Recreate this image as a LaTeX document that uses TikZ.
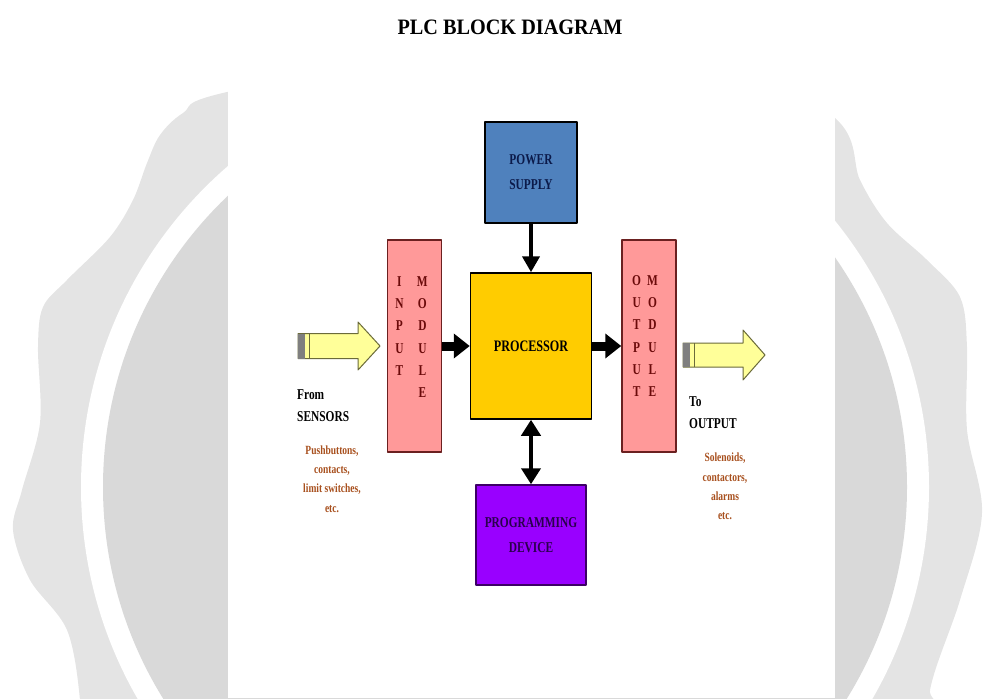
\documentclass[tikz,border=0pt]{standalone}
\usepackage{fontspec}
\setmainfont{Liberation Serif}
\newfontfamily\plcfont[FakeStretch=0.76]{Liberation Serif}
\newfontfamily\plctitlefont[FakeStretch=0.92]{Liberation Serif}
\usetikzlibrary{arrows.meta}

\definecolor{plcsealout}{HTML}{E4E4E4}
\definecolor{plcsealin}{HTML}{D9D9D9}
\definecolor{plcpower}{HTML}{4F81BD}
\definecolor{plcpowertxt}{HTML}{0B1A4A}
\definecolor{plcmodule}{HTML}{FF9999}
\definecolor{plcmoduleedge}{HTML}{6B2020}
\definecolor{plcmoduletxt}{HTML}{6B0A0A}
\definecolor{plcproc}{HTML}{FFCC00}
\definecolor{plcprog}{HTML}{9900FF}
\definecolor{plcprogedge}{HTML}{3D0066}
\definecolor{plcprogtxt}{HTML}{2A004D}
\definecolor{plcyellow}{HTML}{FFFF99}
\definecolor{plcyellowedge}{HTML}{6B6B3A}
\definecolor{plcstripe}{HTML}{7F7F7F}
\definecolor{plcnote}{HTML}{A8501E}

\begin{document}
\begin{tikzpicture}[x=1pt,y=-1pt,line join=round,
  blk/.style={draw=black,line width=1.5pt,inner sep=0pt,align=center,
    font=\plcfont\bfseries\fontsize{15}{25}\selectfont},
  modbox/.style={blk,draw=plcmoduleedge,fill=plcmodule,minimum width=54pt,minimum height=212pt},
  modtxt/.style={inner sep=0pt,text=plcmoduletxt,font=\plcfont\bfseries\fontsize{15}{22.2}\selectfont},
  flowarrow/.style={line width=9pt,-{Triangle[length=16pt,width=24pt]}},
  feedarrow/.style={line width=4.5pt,-{Triangle[length=16pt,width=17pt]}},
  yarrow/.style={draw=plcyellowedge,fill=plcyellow,line width=1pt},
  lbl/.style={inner sep=0pt,align=left,font=\plcfont\bfseries\fontsize{15}{22}\selectfont},
  note/.style={inner sep=0pt,align=center,text=plcnote,font=\plcfont\bfseries\fontsize{12.5}{19.2}\selectfont}]
  \useasboundingbox (0,0) rectangle (984,698);

  % Grey seal watermark, hidden in the middle by the white page.
  \begin{scope}
    \clip (0,0) rectangle (984,698);
    \fill[plcsealout] plot[smooth cycle,tension=0.55] coordinates {
      (500,40) (227,92) (183,113) (160,135) (147,163) (133,200) (110,237)
      (67,280) (43,307) (38,347) (40,423) (22,490) (13,530) (30,580)
      (67,630) (80,700) (80,760) (930,760) (930,690) (960,600) (982,513)
      (967,430) (967,347) (960,297) (927,260) (887,223) (860,180) (835,118)
      (700,40)};
    \fill[white] (505,487) circle[radius=424];
    \fill[plcsealin] (505,487) circle[radius=402];
    \fill[white] (228,0) rectangle (835,698);
  \end{scope}

  \node[font=\plctitlefont\bfseries\fontsize{22}{26}\selectfont,inner sep=0pt] (title) at (510,27) {PLC BLOCK DIAGRAM};

  % Blocks.
  \node[blk,fill=plcpower,text=plcpowertxt,minimum width=92pt,minimum height=101pt] (power) at (531,172.5) {POWER\\SUPPLY};
  \node[blk,fill=plcproc,minimum width=121pt,minimum height=146pt,font=\plcfont\bfseries\fontsize{16}{20}\selectfont] (proc) at (531,346) {PROCESSOR};
  \node[modbox] (inmod) at (414.5,346) {};
  \node[modbox] (outmod) at (649,346) {};
  \node[blk,draw=plcprogedge,fill=plcprog,text=plcprogtxt,minimum width=110pt,minimum height=100pt] (prog) at (531,535) {PROGRAMMING\\DEVICE};

  % Letters stacked in the two modules.
  \node[modtxt] (inmodtxt) at (411.5,337.5) {\begin{tabular}{@{}c@{\hspace{13.5pt}}c@{}}I&M\\N&O\\P&D\\U&U\\T&L\\&E\end{tabular}};
  \node[modtxt] (outmodtxt) at (645,336.5) {\begin{tabular}{@{}c@{\hspace{6pt}}c@{}}O&M\\U&O\\T&D\\P&U\\U&L\\T&E\end{tabular}};

  % Signal flow.
  \draw[flowarrow] (inmod.east) -- (proc.west);
  \draw[flowarrow] (proc.east) -- (outmod.west);
  \draw[feedarrow] (power.south) -- (proc.north);
  \draw[feedarrow,{Triangle[length=16pt,width=19pt]}-{Triangle[length=16pt,width=19pt]}] (proc.south) -- (prog.north);

  % Yellow field arrows.
  \filldraw[yarrow] (298,333.5) -- (358,333.5) -- (358,322) -- (380,346) -- (358,370) -- (358,358.5) -- (298,358.5) -- cycle;
  \fill[plcstripe] (298,333.5) rectangle (305,358.5);
  \draw[plcyellowedge,line width=1pt] (309,333.5) -- (309,358.5);
  \filldraw[yarrow] (683,343) -- (743,343) -- (743,330) -- (765,355) -- (743,380) -- (743,367) -- (683,367) -- cycle;
  \fill[plcstripe] (683,343) rectangle (690,367);
  \draw[plcyellowedge,line width=1pt] (694,343) -- (694,367);

  % Field side labels.
  \node[lbl,anchor=west] (fromlbl) at (297,406) {From\\SENSORS};
  \node[lbl,anchor=west] (tolbl) at (689,413) {To\\OUTPUT};
  \node[note] (innote) at (332,479) {Pushbuttons,\\contacts,\\limit switches,\\etc.};
  \node[note] (outnote) at (725,486.5) {Solenoids,\\contactors,\\alarms\\etc.};
\end{tikzpicture}
\end{document}
